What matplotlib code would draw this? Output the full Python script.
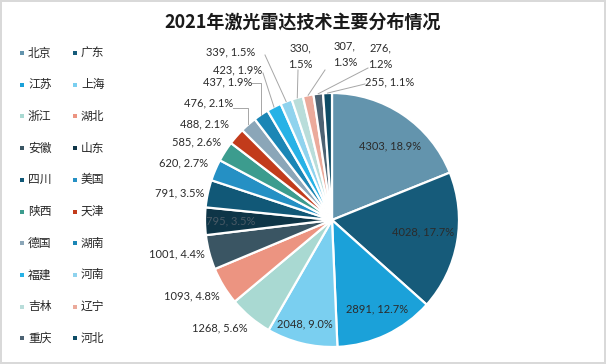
import matplotlib.pyplot as plt
from matplotlib.patches import Rectangle
import numpy as np

plt.rcParams['font.family'] = ['Noto Sans CJK SC', 'DejaVu Sans']

# 数据
regions = ['北京', '广东', '江苏', '上海', '浙江', '湖北', '安徽', '山东', '四川', '美国',
           '陕西', '天津', '德国', '湖南', '福建', '河南', '吉林', '辽宁', '重庆', '河北']
counts = [4303, 4028, 2891, 2048, 1268, 1093, 1001, 795, 791, 620,
          585, 488, 476, 437, 423, 339, 330, 307, 276, 255]
colors = ['#6394AD', '#165B7A', '#1BA1D9', '#7ACFF0', '#A9D9D2', '#EC9481', '#3A5563',
          '#0E3547', '#115877', '#2590C4', '#3C9C8E', '#C23B1B', '#8BA6B8', '#1B86B5',
          '#27B2E6', '#8FD3EE', '#B9DDDA', '#EBAA9B', '#4C6273', '#0D4C66']

W, H = 606, 364
cx, cy, R = 332, 220, 127   # 饼图中心与半径 (像素)

# 标签位置 (像素), 以及引线起点
label_pos = [(390, 146), (423, 232), (377, 309), (305, 324), (220, 328), (192, 296),
             (177, 254), (231, 221), (180, 193), (184, 163), (197, 142), (205, 124),
             (209, 103), (228, 82), (238, 70), (231, 52), (300, 56), (345, 54),
             (380, 56), (390, 82)]
leader = {12: ((233, 108), 'elbow'), 13: ((252, 83), 'elbow'), 14: ((263, 73), 'line'),
          15: ((265, 55), 'line'), 16: ((298, 70), 'line'), 17: ((325, 70), 'line'),
          18: ((368, 68), 'line'), 19: ((365, 84), 'line')}
multiline = {16, 17, 18}

fig = plt.figure(figsize=(W / 100, H / 100), dpi=100)
fig.patch.set_edgecolor('#D9D9D9')
fig.patch.set_linewidth(1.5)
ax = fig.add_axes([0, 0, 1, 1])

wedges, _ = ax.pie(counts, colors=colors, startangle=90, counterclock=False,
                   radius=R, center=(cx, H - cy), frame=True,
                   wedgeprops=dict(edgecolor='white', linewidth=1.6))
ax.set_xlim(0, W)
ax.set_ylim(0, H)
ax.axis('off')

total = sum(counts)
cum = np.cumsum([0] + counts)
for i, v in enumerate(counts):
    pct = v / total * 100
    sep = ',\n' if i in multiline else ', '
    txt = f"{v}{sep}{pct:.1f}%"
    lx, ly = label_pos[i]
    col = '#4A5A66' if i == 7 else '#2B2B2B'
    ax.text(lx, H - ly, txt, ha='center', va='center', fontsize=8,
            family=['Lato', 'DejaVu Sans'], color=col, linespacing=1.6)
    if i in leader:
        (ax0, ay0), style = leader[i]
        theta = np.deg2rad((cum[i] + v / 2) / total * 360)
        wx = cx + R * np.sin(theta)
        wy = cy - R * np.cos(theta)
        if style == 'elbow':
            xs = [ax0, wx, wx]
            ys = [ay0, ay0, wy]
        else:
            xs = [ax0, wx]
            ys = [ay0, wy]
        ax.plot(xs, [H - y for y in ys], color='#A6A6A6', lw=0.7)

# 图例 (两列, 按行排列)
for i, name in enumerate(regions):
    row, col = i // 2, i % 2
    px = 22 if col == 0 else 75
    py = 53 + 31.7 * row
    ax.add_patch(Rectangle((px - 2, H - py - 2), 4, 4, color=colors[i], lw=0))
    ax.text(px + 6, H - py, name, ha='left', va='center', fontsize=8.5, color='#262626')

ax.text(303, H - 23, '2021年激光雷达技术主要分布情况', ha='center', va='center',
        fontsize=13, fontweight='bold', color='#1A1A1A')

fig.savefig('out.png', dpi=100)
